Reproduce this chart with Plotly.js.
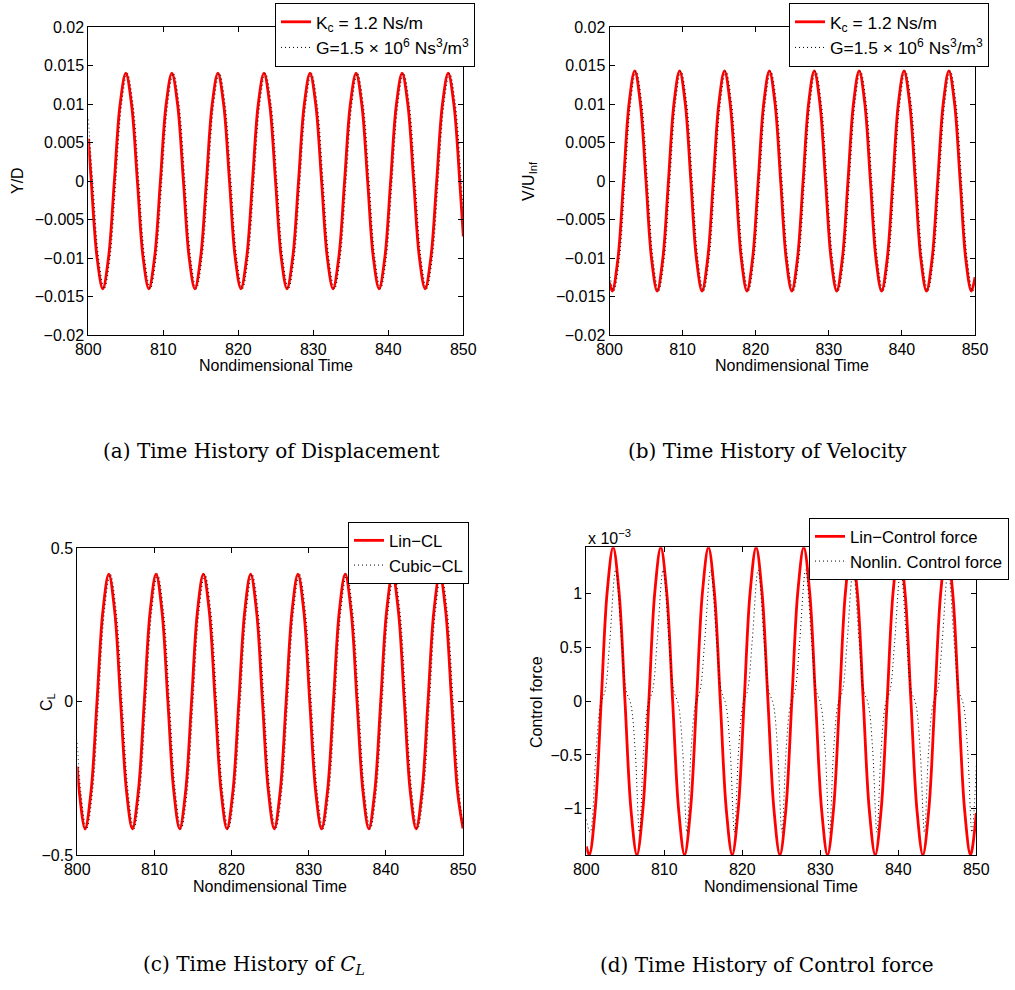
<!DOCTYPE html>
<html>
<head>
<meta charset="utf-8">
<script src="https://cdn.plot.ly/plotly-3.0.1.min.js"></script>
<style>html,body{margin:0;padding:0;background:#fff;}#chart{width:1015px;height:990px;}</style>
</head>
<body>
<div id="chart"></div>
<script>
// ---------- Data ----------
var xTickVals = [800, 810, 820, 830, 840, 850];
var xTickText = ['800', '810', '820', '830', '840', '850'];
var yTickValsAB = [-0.02, -0.015, -0.01, -0.005, 0, 0.005, 0.01, 0.015, 0.02];
var yTickTextAB = ['\u22120.02', '\u22120.015', '\u22120.01', '\u22120.005', '0', '0.005', '0.01', '0.015', '0.02'];
var yTickValsC = [-0.5, 0, 0.5];
var yTickTextC = ['\u22120.5', '0', '0.5'];
var yTickValsD = [-0.001, -0.0005, 0, 0.0005, 0.001];
var yTickTextD = ['\u22121', '\u22120.5', '0', '0.5', '1'];

// (a) displacement Y/D
var tDispLin = [800.0, 800.39, 801.16, 801.93, 802.70, 803.47, 804.23, 805.00, 805.77, 806.54, 807.30, 808.07, 808.84, 809.61, 810.37, 811.14, 811.91, 812.68, 813.44, 814.21, 814.98, 815.75, 816.51, 817.28, 818.05, 818.82, 819.58, 820.35, 821.12, 821.89, 822.65, 823.42, 824.19, 824.96, 825.72, 826.49, 827.26, 828.03, 828.79, 829.56, 830.33, 831.10, 831.86, 832.63, 833.40, 834.17, 834.93, 835.70, 836.47, 837.24, 838.00, 838.77, 839.54, 840.31, 841.07, 841.84, 842.61, 843.38, 844.14, 844.91, 845.68, 846.45, 847.21, 847.98, 848.75, 849.52, 850.0];
var yDispLin = [0.0055,
  0, -0.0099, -0.014, -0.0099, 0, 0.0099, 0.014, 0.0099,
  0, -0.0099, -0.014, -0.0099, 0, 0.0099, 0.014, 0.0099,
  0, -0.0099, -0.014, -0.0099, 0, 0.0099, 0.014, 0.0099,
  0, -0.0099, -0.014, -0.0099, 0, 0.0099, 0.014, 0.0099,
  0, -0.0099, -0.014, -0.0099, 0, 0.0099, 0.014, 0.0099,
  0, -0.0099, -0.014, -0.0099, 0, 0.0099, 0.014, 0.0099,
  0, -0.0099, -0.014, -0.0099, 0, 0.0099, 0.014, 0.0099,
  0, -0.0099, -0.014, -0.0099, 0, 0.0099, 0.014, 0.0099,
  0, -0.0072];
var tDispCub = [800.0, 800.59, 801.36, 802.13, 802.90, 803.67, 804.43, 805.20, 805.97, 806.74, 807.50, 808.27, 809.04, 809.81, 810.57, 811.34, 812.11, 812.88, 813.64, 814.41, 815.18, 815.95, 816.71, 817.48, 818.25, 819.02, 819.78, 820.55, 821.32, 822.09, 822.85, 823.62, 824.39, 825.16, 825.92, 826.69, 827.46, 828.23, 828.99, 829.76, 830.53, 831.30, 832.06, 832.83, 833.60, 834.37, 835.13, 835.90, 836.67, 837.44, 838.20, 838.97, 839.74, 840.51, 841.27, 842.04, 842.81, 843.58, 844.34, 845.11, 845.88, 846.65, 847.41, 848.18, 848.95, 849.72, 850.0];
var yDispCub = [0.008,
  0, -0.0099, -0.014, -0.0099, 0, 0.0099, 0.014, 0.0099,
  0, -0.0099, -0.014, -0.0099, 0, 0.0099, 0.014, 0.0099,
  0, -0.0099, -0.014, -0.0099, 0, 0.0099, 0.014, 0.0099,
  0, -0.0099, -0.014, -0.0099, 0, 0.0099, 0.014, 0.0099,
  0, -0.0099, -0.014, -0.0099, 0, 0.0099, 0.014, 0.0099,
  0, -0.0099, -0.014, -0.0099, 0, 0.0099, 0.014, 0.0099,
  0, -0.0099, -0.014, -0.0099, 0, 0.0099, 0.014, 0.0099,
  0, -0.0099, -0.014, -0.0099, 0, 0.0099, 0.014, 0.0099,
  0, -0.0040];

// (b) velocity V/U_Inf
var tVelLin = [800.0, 800.38, 801.15, 801.92, 802.68, 803.45, 804.22, 804.99, 805.75, 806.52, 807.29, 808.06, 808.82, 809.59, 810.36, 811.13, 811.89, 812.66, 813.43, 814.20, 814.96, 815.73, 816.50, 817.27, 818.03, 818.80, 819.57, 820.34, 821.10, 821.87, 822.64, 823.41, 824.17, 824.94, 825.71, 826.48, 827.24, 828.01, 828.78, 829.55, 830.31, 831.08, 831.85, 832.62, 833.38, 834.15, 834.92, 835.69, 836.45, 837.22, 837.99, 838.76, 839.52, 840.29, 841.06, 841.83, 842.59, 843.36, 844.13, 844.90, 845.66, 846.43, 847.20, 847.97, 848.73, 849.50, 850.0];
var yVelLin = [-0.0132,
  -0.0143, -0.0101, 0, 0.0101, 0.0143, 0.0101, 0, -0.0101,
  -0.0143, -0.0101, 0, 0.0101, 0.0143, 0.0101, 0, -0.0101,
  -0.0143, -0.0101, 0, 0.0101, 0.0143, 0.0101, 0, -0.0101,
  -0.0143, -0.0101, 0, 0.0101, 0.0143, 0.0101, 0, -0.0101,
  -0.0143, -0.0101, 0, 0.0101, 0.0143, 0.0101, 0, -0.0101,
  -0.0143, -0.0101, 0, 0.0101, 0.0143, 0.0101, 0, -0.0101,
  -0.0143, -0.0101, 0, 0.0101, 0.0143, 0.0101, 0, -0.0101,
  -0.0143, -0.0101, 0, 0.0101, 0.0143, 0.0101, 0, -0.0101,
  -0.0143, -0.0125];
var tVelCub = [800.0, 800.58, 801.35, 802.12, 802.88, 803.65, 804.42, 805.19, 805.95, 806.72, 807.49, 808.26, 809.02, 809.79, 810.56, 811.33, 812.09, 812.86, 813.63, 814.40, 815.16, 815.93, 816.70, 817.47, 818.23, 819.00, 819.77, 820.54, 821.30, 822.07, 822.84, 823.61, 824.37, 825.14, 825.91, 826.68, 827.44, 828.21, 828.98, 829.75, 830.51, 831.28, 832.05, 832.82, 833.58, 834.35, 835.12, 835.89, 836.65, 837.42, 838.19, 838.96, 839.72, 840.49, 841.26, 842.03, 842.79, 843.56, 844.33, 845.10, 845.86, 846.63, 847.40, 848.17, 848.93, 849.70, 850.0];
var yVelCub = [-0.0119,
  -0.0143, -0.0101, 0, 0.0101, 0.0143, 0.0101, 0, -0.0101,
  -0.0143, -0.0101, 0, 0.0101, 0.0143, 0.0101, 0, -0.0101,
  -0.0143, -0.0101, 0, 0.0101, 0.0143, 0.0101, 0, -0.0101,
  -0.0143, -0.0101, 0, 0.0101, 0.0143, 0.0101, 0, -0.0101,
  -0.0143, -0.0101, 0, 0.0101, 0.0143, 0.0101, 0, -0.0101,
  -0.0143, -0.0101, 0, 0.0101, 0.0143, 0.0101, 0, -0.0101,
  -0.0143, -0.0101, 0, 0.0101, 0.0143, 0.0101, 0, -0.0101,
  -0.0143, -0.0101, 0, 0.0101, 0.0143, 0.0101, 0, -0.0101,
  -0.0143, -0.0138];

// (c) lift coefficient C_L
var tClLin = [800.0, 800.25, 801.01, 801.78, 802.55, 803.31, 804.08, 804.85, 805.61, 806.38, 807.14, 807.91, 808.68, 809.44, 810.21, 810.98, 811.74, 812.51, 813.27, 814.04, 814.81, 815.57, 816.34, 817.11, 817.87, 818.64, 819.40, 820.17, 820.94, 821.70, 822.47, 823.24, 824.00, 824.77, 825.53, 826.30, 827.07, 827.83, 828.60, 829.37, 830.13, 830.90, 831.66, 832.43, 833.20, 833.96, 834.73, 835.50, 836.26, 837.03, 837.79, 838.56, 839.33, 840.09, 840.86, 841.63, 842.39, 843.16, 843.92, 844.69, 845.46, 846.22, 846.99, 847.76, 848.52, 849.29, 850.0];
var yClLin = [-0.212,
  -0.293, -0.415, -0.293, 0, 0.293, 0.415, 0.293, 0,
  -0.293, -0.415, -0.293, 0, 0.293, 0.415, 0.293, 0,
  -0.293, -0.415, -0.293, 0, 0.293, 0.415, 0.293, 0,
  -0.293, -0.415, -0.293, 0, 0.293, 0.415, 0.293, 0,
  -0.293, -0.415, -0.293, 0, 0.293, 0.415, 0.293, 0,
  -0.293, -0.415, -0.293, 0, 0.293, 0.415, 0.293, 0,
  -0.293, -0.415, -0.293, 0, 0.293, 0.415, 0.293, 0,
  -0.293, -0.415, -0.293, 0, 0.293, 0.415, 0.293, 0,
  -0.293, -0.414];
var tClCub = [800.0, 800.45, 801.21, 801.98, 802.75, 803.51, 804.28, 805.05, 805.81, 806.58, 807.34, 808.11, 808.88, 809.64, 810.41, 811.18, 811.94, 812.71, 813.47, 814.24, 815.01, 815.77, 816.54, 817.31, 818.07, 818.84, 819.60, 820.37, 821.14, 821.90, 822.67, 823.44, 824.20, 824.97, 825.73, 826.50, 827.27, 828.03, 828.80, 829.57, 830.33, 831.10, 831.86, 832.63, 833.40, 834.16, 834.93, 835.70, 836.46, 837.23, 837.99, 838.76, 839.53, 840.29, 841.06, 841.83, 842.59, 843.36, 844.12, 844.89, 845.66, 846.42, 847.19, 847.96, 848.72, 849.49, 850.0];
var yClCub = [-0.135,
  -0.293, -0.415, -0.293, 0, 0.293, 0.415, 0.293, 0,
  -0.293, -0.415, -0.293, 0, 0.293, 0.415, 0.293, 0,
  -0.293, -0.415, -0.293, 0, 0.293, 0.415, 0.293, 0,
  -0.293, -0.415, -0.293, 0, 0.293, 0.415, 0.293, 0,
  -0.293, -0.415, -0.293, 0, 0.293, 0.415, 0.293, 0,
  -0.293, -0.415, -0.293, 0, 0.293, 0.415, 0.293, 0,
  -0.293, -0.415, -0.293, 0, 0.293, 0.415, 0.293, 0,
  -0.293, -0.415, -0.293, 0, 0.293, 0.415, 0.293, 0,
  -0.293, -0.400];

// (d) control force
var tForceLin = [800.0, 800.38, 801.14, 801.91, 802.67, 803.44, 804.20, 804.96, 805.73, 806.49, 807.25, 808.02, 808.78, 809.55, 810.31, 811.07, 811.84, 812.60, 813.36, 814.13, 814.89, 815.66, 816.42, 817.18, 817.95, 818.71, 819.47, 820.24, 821.00, 821.77, 822.53, 823.29, 824.06, 824.82, 825.58, 826.35, 827.11, 827.88, 828.64, 829.40, 830.17, 830.93, 831.69, 832.46, 833.22, 833.99, 834.75, 835.51, 836.28, 837.04, 837.80, 838.57, 839.33, 840.10, 840.86, 841.62, 842.39, 843.15, 843.91, 844.68, 845.44, 846.21, 846.97, 847.73, 848.50, 849.26, 850.0];
var yForceLin = [-0.00135,
  -0.00143, -0.00101, 0, 0.00101, 0.00143, 0.00101, 0, -0.00101,
  -0.00143, -0.00101, 0, 0.00101, 0.00143, 0.00101, 0, -0.00101,
  -0.00143, -0.00101, 0, 0.00101, 0.00143, 0.00101, 0, -0.00101,
  -0.00143, -0.00101, 0, 0.00101, 0.00143, 0.00101, 0, -0.00101,
  -0.00143, -0.00101, 0, 0.00101, 0.00143, 0.00101, 0, -0.00101,
  -0.00143, -0.00101, 0, 0.00101, 0.00143, 0.00101, 0, -0.00101,
  -0.00143, -0.00101, 0, 0.00101, 0.00143, 0.00101, 0, -0.00101,
  -0.00143, -0.00101, 0, 0.00101, 0.00143, 0.00101, 0, -0.00101,
  -0.00143, -0.00104];
var tForceCub = [800.0, 800.5, 801.27, 801.82, 802.42, 803.0, 803.76,
  804.53, 805.11, 805.71, 806.26, 806.81, 807.35, 807.90, 808.50, 809.08, 809.85,
  810.62, 811.20, 811.80, 812.35, 812.90, 813.44, 813.99, 814.59, 815.17, 815.94,
  816.71, 817.29, 817.89, 818.44, 818.99, 819.53, 820.08, 820.68, 821.26, 822.03,
  822.80, 823.38, 823.98, 824.53, 825.08, 825.62, 826.17, 826.77, 827.35, 828.12,
  828.89, 829.47, 830.07, 830.62, 831.17, 831.71, 832.26, 832.86, 833.44, 834.21,
  834.98, 835.56, 836.16, 836.71, 837.26, 837.80, 838.35, 838.95, 839.53, 840.30,
  841.07, 841.65, 842.25, 842.80, 843.35, 843.89, 844.44, 845.04, 845.62, 846.39,
  847.16, 847.74, 848.34, 848.89, 849.44, 850.0];
var yForceCub = [-0.0011, -0.00122, -0.00045, -0.00003, 0.0001, 0.00055, 0.00122,
  0.00055, 0.0001, -0.00003, -0.00045, -0.00122, -0.00045, -0.00003, 0.0001, 0.00055, 0.00122,
  0.00055, 0.0001, -0.00003, -0.00045, -0.00122, -0.00045, -0.00003, 0.0001, 0.00055, 0.00122,
  0.00055, 0.0001, -0.00003, -0.00045, -0.00122, -0.00045, -0.00003, 0.0001, 0.00055, 0.00122,
  0.00055, 0.0001, -0.00003, -0.00045, -0.00122, -0.00045, -0.00003, 0.0001, 0.00055, 0.00122,
  0.00055, 0.0001, -0.00003, -0.00045, -0.00122, -0.00045, -0.00003, 0.0001, 0.00055, 0.00122,
  0.00055, 0.0001, -0.00003, -0.00045, -0.00122, -0.00045, -0.00003, 0.0001, 0.00055, 0.00122,
  0.00055, 0.0001, -0.00003, -0.00045, -0.00122, -0.00045, -0.00003, 0.0001, 0.00055, 0.00122,
  0.00055, 0.0001, -0.00003, -0.00045, -0.00122, -0.0006];

// ---------- Styling ----------
var FONT = 'Liberation Sans, Arial, Helvetica, sans-serif';
var SERIF = 'DejaVu Serif, Liberation Serif, serif';
var W = 1015, H = 990;
function px(x) { return x / W; }
function py(y) { return 1 - y / H; }

var redLine = { color: '#ff0000', width: 2.8, shape: 'spline', smoothing: 1 };
var dotLine = { color: '#000000', width: 1, dash: '1px,3px', shape: 'spline', smoothing: 1 };

var traces = [
  { x: tDispLin, y: yDispLin, name: 'K<sub>c</sub> = 1.2 Ns/m', mode: 'lines', line: redLine, xaxis: 'x', yaxis: 'y', legend: 'legend' },
  { x: tDispCub, y: yDispCub, name: 'G=1.5 \u00d7 10<sup>6</sup> Ns<sup>3</sup>/m<sup>3</sup>', mode: 'lines', line: dotLine, xaxis: 'x', yaxis: 'y', legend: 'legend' },
  { x: tVelLin, y: yVelLin, name: 'K<sub>c</sub> = 1.2 Ns/m', mode: 'lines', line: redLine, xaxis: 'x2', yaxis: 'y2', legend: 'legend2' },
  { x: tVelCub, y: yVelCub, name: 'G=1.5 \u00d7 10<sup>6</sup> Ns<sup>3</sup>/m<sup>3</sup>', mode: 'lines', line: dotLine, xaxis: 'x2', yaxis: 'y2', legend: 'legend2' },
  { x: tClLin, y: yClLin, name: 'Lin\u2212CL', mode: 'lines', line: redLine, xaxis: 'x3', yaxis: 'y3', legend: 'legend3' },
  { x: tClCub, y: yClCub, name: 'Cubic\u2212CL', mode: 'lines', line: dotLine, xaxis: 'x3', yaxis: 'y3', legend: 'legend3' },
  { x: tForceLin, y: yForceLin, name: 'Lin\u2212Control force', mode: 'lines', line: redLine, xaxis: 'x4', yaxis: 'y4', legend: 'legend4' },
  { x: tForceCub, y: yForceCub, name: 'Nonlin. Control force', mode: 'lines', line: dotLine, xaxis: 'x4', yaxis: 'y4', legend: 'legend4' }
];

function xAx(l, r) {
  return {
    domain: [px(l), px(r)], range: [800, 850], tickvals: xTickVals, ticktext: xTickText,
    showline: true, linecolor: '#000', linewidth: 1, mirror: 'ticks',
    ticks: 'inside', ticklen: 5, tickwidth: 1, tickcolor: '#000',
    showgrid: false, zeroline: false, fixedrange: true,
    tickfont: { family: FONT, size: 16, color: '#000' }
  };
}
function yAx(t, b, range, vals, text, anchor) {
  return {
    domain: [py(b), py(t)], range: range, tickvals: vals, ticktext: text, anchor: anchor,
    showline: true, linecolor: '#000', linewidth: 1, mirror: 'ticks',
    ticks: 'inside', ticklen: 5, tickwidth: 1, tickcolor: '#000',
    showgrid: false, zeroline: false, fixedrange: true,
    tickfont: { family: FONT, size: 16, color: '#000' }
  };
}
function legendAt(l, t, size) {
  return {
    x: px(l), y: py(t), xanchor: 'left', yanchor: 'top',
    bgcolor: '#ffffff', bordercolor: '#000', borderwidth: 1,
    font: { family: FONT, size: size, color: '#000' },
    traceorder: 'normal', itemclick: false, itemdoubleclick: false
  };
}
function ann(text, x, y, opts) {
  var a = { text: text, x: x, y: y, xref: 'paper', yref: 'paper', showarrow: false,
            xanchor: 'center', yanchor: 'middle', font: { family: FONT, size: 16, color: '#000' } };
  for (var k in opts) a[k] = opts[k];
  return a;
}
var capFont = { family: SERIF, size: 20, color: '#000' };

var layout = {
  width: W, height: H,
  margin: { l: 0, r: 0, t: 0, b: 0 },
  paper_bgcolor: '#fff', plot_bgcolor: '#fff',
  showlegend: true,
  xaxis: Object.assign(xAx(88.3, 463.3), { anchor: 'y' }),
  yaxis: yAx(27, 335, [-0.02, 0.02], yTickValsAB, yTickTextAB, 'x'),
  xaxis2: Object.assign(xAx(609.5, 975), { anchor: 'y2' }),
  yaxis2: yAx(27, 335, [-0.02, 0.02], yTickValsAB, yTickTextAB, 'x2'),
  xaxis3: Object.assign(xAx(77.3, 463), { anchor: 'y3' }),
  yaxis3: yAx(548, 855, [-0.5, 0.5], yTickValsC, yTickTextC, 'x3'),
  xaxis4: Object.assign(xAx(586.3, 976.3), { anchor: 'y4' }),
  yaxis4: yAx(547.3, 855, [-0.00143, 0.00143], yTickValsD, yTickTextD, 'x4'),
  legend: legendAt(275, 3, 17.4),
  legend2: legendAt(789, 3, 17.4),
  legend3: legendAt(348, 522, 16.7),
  legend4: legendAt(809, 518, 16.7),
  annotations: [
    ann('Nondimensional Time', px(275.8), py(366)),
    ann('Nondimensional Time', px(792.3), py(366)),
    ann('Nondimensional Time', px(270.2), py(886)),
    ann('Nondimensional Time', px(781.3), py(886)),
    ann('Y/D', px(18), py(181), { textangle: -90 }),
    ann('V/U<sub>Inf</sub>', px(530), py(181), { textangle: -90 }),
    ann('C<sub>L</sub>', px(47), py(702), { textangle: -90 }),
    ann('Control force', px(536), py(702), { textangle: -90 }),
    ann('x 10<sup>\u22123</sup>', px(586), py(537), { xanchor: 'left' }),
    ann('(a) Time History of Displacement', px(271.5), py(451), { font: capFont }),
    ann('(b) Time History of Velocity', px(767), py(451), { font: capFont }),
    ann('(c) Time History of <i>C<sub>L</sub></i>', px(254), py(965), { font: capFont }),
    ann('(d) Time History of Control force', px(767), py(965), { font: capFont })
  ]
};

Plotly.newPlot('chart', traces, layout, { staticPlot: true, displayModeBar: false });
</script>
</body>
</html>
